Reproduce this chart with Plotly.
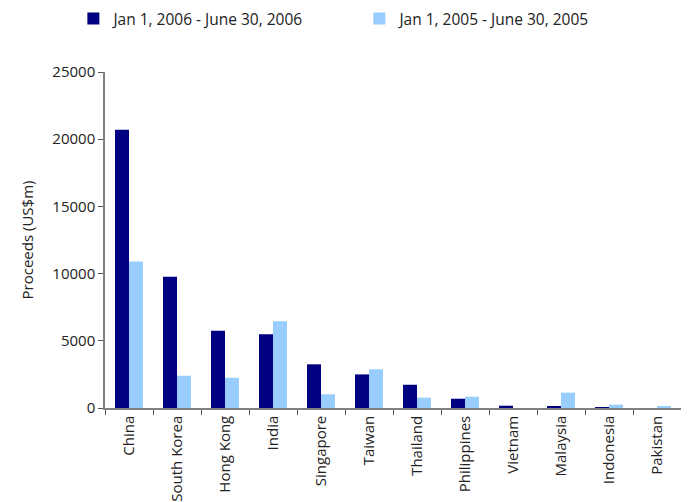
import plotly.graph_objects as go

countries = ["China", "South Korea", "Hong Kong", "India", "Singapore", "Taiwan",
             "Thailand", "Philippines", "Vietnam", "Malaysia", "Indonesia", "Pakistan"]
h1_2006 = [20700, 9770, 5750, 5480, 3250, 2500, 1730, 690, 170, 100, 30, 0]
h1_2005 = [10900, 2400, 2250, 6450, 1020, 2880, 770, 840, 0, 1140, 250, 80]
name_2006 = "Jan 1, 2006 - June 30, 2006"
name_2005 = "Jan 1, 2005 - June 30, 2005"
y_ticks = [0, 5000, 10000, 15000, 20000, 25000]

FONT = "Open Sans"
TXT = "#222222"

fig = go.Figure()
fig.add_trace(go.Bar(x=countries, y=h1_2006, name=name_2006, marker_color="#000080",
                     marker_line_width=0))
fig.add_trace(go.Bar(x=countries, y=h1_2005, name=name_2005, marker_color="#99CCFF",
                     marker_line_width=0))

fig.update_layout(
    width=681, height=494,
    margin=dict(l=97, r=8, t=64, b=94, autoexpand=False),
    paper_bgcolor="white", plot_bgcolor="white",
    barmode="group", bargap=0.417, bargroupgap=0,
    font=dict(family=FONT, size=15, color=TXT),
    showlegend=True,
    legend=dict(orientation="h", x=-0.0549, xref="paper", y=1.158, yref="paper",
                xanchor="left", yanchor="middle",
                entrywidth=241, entrywidthmode="pixels",
                font=dict(family=FONT, size=15.5, color=TXT),
                itemwidth=30, traceorder="normal", bgcolor="rgba(0,0,0,0)"),
    xaxis=dict(type="category", showline=True, linecolor="#808080", linewidth=1.5,
               ticks="outside", tickson="boundaries", ticklen=5, tickcolor="#555555",
               tickangle=-90, showgrid=False, zeroline=False, automargin=False,
               tickfont=dict(family=FONT, size=15, color=TXT)),
    yaxis=dict(range=[0, 25000], tickvals=y_ticks, tickformat="d", showline=True,
               linecolor="#808080", linewidth=1.5, ticks="outside", ticklen=5,
               tickcolor="#555555", showgrid=False, zeroline=False, automargin=False,
               title=dict(text="Proceeds (US$m)", font=dict(family=FONT, size=15, color=TXT),
                          standoff=15),
               tickfont=dict(family=FONT, size=15, color=TXT)),
)

fig.write_html("out.html")
